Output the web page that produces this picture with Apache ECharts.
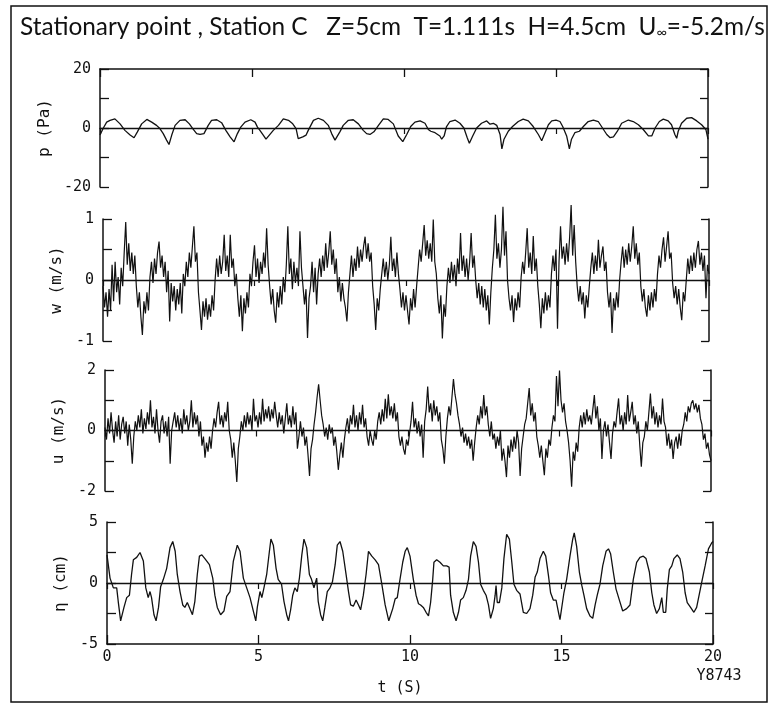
<!DOCTYPE html>
<html><head><meta charset="utf-8">
<script src="https://cdn.jsdelivr.net/npm/echarts/dist/echarts.min.js"></script>
<style>html,body{margin:0;padding:0;background:#fff}#c{width:770px;height:705px}</style>
</head><body><div id="c"></div>
<script>
// ---------------- data ----------------
const titleMain = 'Stationary point , Station C   Z=5cm  T=1.111s  H=4.5cm  U';
const titleSub = '\u221e';
const titleTail = '=-5.2m/s';
const timeTickLabels = ['0', '5', '10', '15', '20'];
const timeAxisName = 't (S)';
const figureCode = 'Y8743';
const panelNames = ['p (Pa)', 'w (m/s)', 'u (m/s)', '\u03b7 (cm)'];
const panelMax = [20, 1, 2, 5];
const yTickLabels = [['20', '0', '-20'], ['1', '0', '-1'], ['2', '0', '-2'], ['5', '0', '-5']];
const sampleStep = 0.05; // s, spacing of wValues / uValues

// pressure p (Pa): [t, p]
const pData = [[0,-2.4],[0.11,0],[0.22,2.0],[0.33,2.6],[0.49,3.1],[0.66,1.4],[0.82,-0.8],[0.99,-2.4],[1.12,-3.3],[1.23,-1.3],[1.37,1.4],[1.54,2.9],[1.70,2.0],[1.86,0.9],[1.97,-0.2],[2.08,-1.9],[2.19,-4.1],[2.27,-5.6],[2.36,-2.4],[2.47,0.9],[2.63,2.6],[2.80,2.8],[2.94,1.4],[3.05,-0.2],[3.18,-1.9],[3.29,-2.2],[3.42,-1.9],[3.56,0.9],[3.67,2.6],[3.84,2.8],[4.00,1.8],[4.14,-0.8],[4.28,-3.0],[4.41,-4.7],[4.52,-1.9],[4.63,0.3],[4.77,2.0],[4.96,2.8],[5.10,2.0],[5.18,0.3],[5.26,-0.8],[5.37,-2.4],[5.46,-3.8],[5.57,-2.4],[5.70,-0.8],[5.87,0.9],[6.03,3.1],[6.20,2.6],[6.34,1.4],[6.45,-0.2],[6.52,-3.6],[6.58,-4.1],[6.67,-3.0],[6.78,-2.4],[6.85,-0.8],[7.02,2.6],[7.18,3.3],[7.35,2.6],[7.51,0.9],[7.62,-1.9],[7.73,-4.1],[7.79,-4.1],[7.89,-1.3],[8.00,0.9],[8.17,2.6],[8.33,2.8],[8.50,1.4],[8.66,-0.8],[8.77,-1.9],[8.88,-2.2],[9.01,-1.3],[9.16,0.9],[9.32,3.1],[9.48,2.9],[9.65,1.4],[9.81,-2.7],[9.96,-4.6],[10.09,-2.2],[10.22,0.5],[10.36,2.0],[10.53,2.4],[10.69,1.6],[10.80,-0.5],[10.88,-1.1],[11.02,-1.6],[11.18,-2.7],[11.24,-3.8],[11.32,-2.7],[11.40,0.5],[11.51,2.2],[11.68,2.7],[11.84,1.6],[11.97,0],[12.08,-3.3],[12.15,-5.2],[12.26,-2.7],[12.39,0],[12.55,1.6],[12.72,2.4],[12.83,1.3],[12.94,1.6],[13.05,0.9],[13.16,-2.2],[13.22,-7.1],[13.29,-3.8],[13.43,-1.1],[13.57,0.5],[13.76,2.2],[13.92,3.0],[14.09,2.4],[14.25,0.5],[14.42,-2.2],[14.53,-4.3],[14.64,-1.6],[14.75,1.1],[14.86,2.4],[15.00,2.7],[15.13,2.2],[15.22,0.5],[15.35,-2.7],[15.44,-7.1],[15.51,-3.8],[15.62,-1.6],[15.77,-1.1],[15.90,0.5],[16.06,2.2],[16.23,2.7],[16.39,2.2],[16.53,0],[16.67,-2.2],[16.78,-3.3],[16.89,-3.0],[17.02,-1.1],[17.16,1.6],[17.38,2.7],[17.54,2.2],[17.71,1.1],[17.87,-0.5],[18.04,-2.7],[18.15,-2.7],[18.26,0],[18.40,2.2],[18.53,3.0],[18.69,2.4],[18.80,1.1],[18.91,-2.2],[18.97,-3.5],[19.02,-1.1],[19.13,1.6],[19.30,3.3],[19.46,3.5],[19.63,2.4],[19.79,1.1],[19.93,-0.5],[20.0,-3.8]];

// vertical velocity w (m/s), one value every 0.05 s from t = 0 (one row = 0.5 s)
const wValues = [
-0.1,-0.45,-0.2,-0.6,-0.15,-0.5,0.25,-0.35,0.3,-0.2,
0.05,-0.4,0.2,-0.1,0.45,0.95,0.25,0.6,0.15,0.45,
0.1,0.4,-0.1,-0.45,-0.2,-0.6,-0.9,-0.35,-0.55,-0.2,
-0.5,0.05,0.3,-0.05,0.35,0.1,0.45,0.63,0.2,0.4,
0.05,0.3,-0.2,0.15,-0.68,-0.05,-0.35,-0.1,-0.5,-0.15,
-0.4,-0.05,-0.55,0.1,-0.1,0.3,0.05,0.45,0.2,0.55,
0.88,0.3,0.45,-0.2,-0.5,-0.82,-0.35,-0.6,-0.3,-0.65,
-0.4,-0.6,-0.25,-0.5,0.0,0.35,0.05,0.4,0.1,0.3,
0.74,0.15,0.4,0.05,0.74,0.2,0.35,-0.1,0.1,-0.3,
-0.6,-0.25,-0.84,-0.3,-0.55,-0.2,-0.45,0.1,-0.1,0.3,
0.57,0.05,0.35,-0.05,0.3,0.1,0.45,0.2,0.85,0.25,
-0.1,-0.4,-0.15,-0.5,-0.7,-0.2,-0.45,-0.1,-0.4,0.05,
-0.2,0.25,0.88,0.1,0.35,-0.15,0.3,-0.05,0.2,-0.1,
0.8,0.2,-0.1,-0.4,-0.15,-0.95,-0.3,-0.1,0.3,-0.2,
0.2,-0.4,0.1,0.35,0.05,0.4,0.15,0.6,0.2,0.45,
0.8,0.25,0.5,0.1,0.35,-0.2,0.05,-0.35,-0.05,-0.3,
-0.45,-0.68,-0.2,0.1,0.4,0.05,0.35,0.15,0.55,0.2,
0.5,0.3,0.55,0.71,0.35,0.6,0.3,0.45,-0.1,-0.4,
-0.82,-0.3,-0.5,-0.15,0.1,0.35,0.05,0.3,0.0,0.25,
0.71,0.15,0.35,0.05,0.45,0.1,-0.15,-0.45,-0.2,-0.5,
-0.25,-0.5,-0.73,-0.3,-0.5,-0.15,-0.45,-0.1,0.2,0.5,
0.3,0.6,0.9,0.4,0.65,0.35,0.6,0.3,0.99,0.3,
0.1,-0.3,-0.55,-0.25,-0.96,-0.4,-0.6,-0.1,0.2,-0.05,
0.3,0.0,0.25,-0.1,0.35,0.1,0.77,0.15,0.4,0.05,
0.35,0.0,0.3,0.77,0.2,0.4,0.0,-0.3,-0.05,-0.4,
-0.1,-0.45,-0.15,-0.5,-0.25,-0.73,-0.2,0.2,0.5,1.07,
0.35,0.6,0.2,0.5,1.2,0.4,0.8,0.0,-0.3,-0.5,
-0.25,-0.69,-0.3,-0.5,-0.2,-0.45,0.05,0.3,0.1,0.45,
0.85,0.2,0.45,0.1,0.72,0.15,0.35,-0.1,-0.4,-0.79,
-0.3,-0.55,-0.2,-0.5,-0.25,-0.45,0.1,0.4,0.15,0.5,
-0.8,0.3,0.88,0.35,0.55,0.25,0.6,0.3,0.7,1.23,
0.4,0.9,0.3,-0.1,-0.35,-0.1,-0.4,-0.2,-0.63,-0.25,
-0.45,-0.1,0.2,0.45,0.1,0.4,0.15,0.66,0.2,0.4,
0.55,0.15,0.3,-0.2,-0.45,-0.2,-0.87,-0.3,-0.5,-0.2,
-0.45,0.0,0.3,0.55,0.2,0.5,0.25,0.6,0.3,0.55,
0.88,0.35,0.6,0.25,0.45,-0.1,-0.35,-0.15,-0.45,-0.6,
-0.25,-0.5,-0.2,-0.45,-0.15,-0.35,0.1,0.4,0.2,0.5,
0.7,0.3,0.55,0.8,0.35,0.45,-0.05,-0.3,-0.1,-0.4,
-0.15,-0.45,-0.66,-0.2,-0.35,0.0,0.35,0.1,0.4,0.15,
0.45,0.2,0.5,0.64,0.25,0.45,0.15,0.4,-0.3,0.25,
0.1];

// horizontal velocity u (m/s), one value every 0.05 s from t = 0 (one row = 0.5 s)
const uValues = [
0.1,-0.3,0.4,-0.1,0.6,0.0,-0.4,0.3,-0.2,0.5,
-0.3,0.2,0.45,-0.1,0.3,-0.5,0.2,-0.3,-1.1,-0.2,
0.3,0.0,0.5,0.1,0.7,-0.1,0.4,0.05,0.6,0.2,
1.0,0.1,0.45,-0.1,0.7,0.0,-0.4,0.3,0.5,-0.1,
0.3,-0.2,0.45,-1.1,0.0,0.3,0.6,0.1,0.5,0.0,
0.4,-0.1,0.7,0.2,0.5,0.0,0.3,1.0,0.1,0.6,
0.2,0.5,-0.2,0.3,-0.5,-0.2,-0.9,-0.4,-0.7,-0.2,
-0.6,0.0,0.4,0.1,0.6,0.95,0.2,0.5,0.1,0.6,
0.3,0.95,0.0,-0.3,-0.9,-0.4,-1.0,-1.7,-0.6,-0.2,
0.3,0.0,0.5,0.1,0.6,0.2,0.5,0.0,1.05,0.3,
0.5,0.1,0.6,0.2,1.05,0.3,0.7,0.4,0.8,0.3,
0.7,0.4,0.95,0.5,0.1,0.6,0.2,0.5,-0.1,0.4,
0.9,0.2,0.5,0.1,0.8,0.2,0.6,-0.6,-0.2,0.3,
-0.2,0.1,-0.5,-0.2,-0.8,-1.5,-0.6,-0.3,0.2,0.6,
1.1,1.53,1.0,0.5,0.2,-0.2,0.1,-0.3,0.2,-0.1,
0.1,-0.5,-0.2,-0.7,-1.3,-0.8,-0.4,-0.9,-0.3,0.1,
0.4,-0.1,0.5,0.2,0.85,0.1,0.5,0.0,0.6,0.2,
0.85,0.1,0.4,-0.2,-0.5,0.0,-0.3,-0.5,0.0,-0.3,
0.3,0.6,0.2,0.7,0.3,1.05,0.4,1.2,0.5,0.8,
0.4,0.9,0.3,0.6,-0.2,-0.5,-0.2,-0.6,-0.8,-0.3,
-0.5,-0.1,0.3,0.95,0.1,0.4,-0.1,0.3,-0.2,0.2,
-0.9,0.3,0.7,1.45,0.6,0.9,0.3,1.0,0.5,0.8,
0.3,0.6,-0.3,-0.6,-1.1,-0.2,0.4,0.8,0.5,1.1,
1.7,1.2,0.9,0.5,0.2,-0.2,0.1,-0.4,-0.1,-0.5,
-0.2,-0.6,-0.3,-1.0,-0.4,0.1,0.5,0.2,0.8,0.4,
1.17,0.5,0.8,0.2,-0.2,0.3,-0.3,-0.1,-0.6,-0.2,
-0.5,0.0,-1.0,-0.6,-1.0,-1.54,-0.5,-0.9,-0.3,-0.7,
-0.2,-0.6,0.0,-0.4,-1.5,-0.6,-0.2,0.2,0.4,0.9,
1.4,0.5,0.9,0.3,0.6,-0.2,-0.5,-0.9,-0.5,-1.0,
-1.48,-0.6,-0.9,-0.3,-0.5,0.1,0.5,0.3,1.8,0.8,
1.98,1.0,0.6,0.9,0.3,0.0,-0.4,-1.0,-1.86,-0.7,
-1.0,-0.4,-0.7,0.1,0.5,0.1,0.6,0.2,0.7,0.3,
0.5,0.2,0.7,1.17,0.4,0.8,0.0,0.4,-0.94,0.0,
0.3,-0.2,0.2,-0.4,-0.94,-0.1,0.3,0.1,0.6,1.06,
0.2,0.5,0.0,0.6,0.2,1.17,0.3,0.6,0.95,0.2,
0.5,-0.1,0.3,-0.5,-1.2,-0.4,-0.2,0.3,0.0,0.6,
1.22,0.4,0.8,0.2,0.6,0.1,0.5,0.2,1.06,0.3,
0.1,-0.5,-0.1,-0.6,-0.3,-0.94,-0.4,-0.2,-0.6,-0.1,
-0.5,0.0,0.2,0.6,0.3,0.8,0.6,0.9,1.0,0.7,
0.9,0.6,0.85,0.4,0.2,-0.3,-0.1,-0.6,-0.4,-0.8,
-1.0];

// surface elevation eta (cm): [t, eta]
const etaData = [[0,2.3],[0.10,0.4],[0.21,-0.4],[0.26,-0.55],[0.32,-0.4],[0.37,-1.5],[0.45,-3.1],[0.56,-2.0],[0.65,-1.2],[0.74,-1.0],[0.81,0.7],[0.87,1.9],[0.98,2.1],[1.09,2.5],[1.20,1.8],[1.28,-0.4],[1.36,-1.2],[1.42,-0.7],[1.47,-1.2],[1.55,-2.6],[1.62,-3.1],[1.70,-2.0],[1.77,-0.3],[1.86,0.3],[1.97,1.2],[2.08,2.9],[2.17,3.4],[2.25,2.6],[2.32,0.7],[2.41,-0.7],[2.50,-1.8],[2.57,-2.0],[2.65,-1.6],[2.72,-2.0],[2.82,-2.6],[2.90,-1.5],[2.98,0.7],[3.05,2.2],[3.13,2.3],[3.23,2.0],[3.38,1.5],[3.49,0.4],[3.56,-1.0],[3.64,-2.0],[3.75,-2.6],[3.86,-2.3],[3.95,-1.1],[4.06,-0.7],[4.17,1.8],[4.30,3.1],[4.39,2.6],[4.50,0.4],[4.61,-0.4],[4.72,-1.2],[4.83,-2.3],[4.91,-3.1],[4.96,-2.0],[5.05,-0.7],[5.11,-1.2],[5.18,-0.4],[5.27,0.7],[5.36,2.6],[5.41,3.6],[5.49,3.1],[5.58,1.2],[5.65,0.3],[5.76,-0.1],[5.84,-1.5],[5.93,-2.6],[5.99,-3.1],[6.06,-2.2],[6.13,-1.0],[6.20,-0.4],[6.28,-0.7],[6.35,0.4],[6.43,2.3],[6.50,3.6],[6.59,2.9],[6.68,0.7],[6.75,0.3],[6.83,-0.4],[6.92,0.4],[6.97,-1.5],[7.05,-2.6],[7.12,-3.1],[7.19,-2.0],[7.27,-0.7],[7.36,-0.4],[7.44,0.1],[7.53,1.5],[7.60,3.1],[7.69,3.4],[7.78,2.6],[7.89,0.7],[7.97,-0.7],[8.04,-1.8],[8.13,-1.9],[8.22,-1.4],[8.30,-1.8],[8.37,-2.2],[8.46,-1.0],[8.55,0.7],[8.63,2.6],[8.74,2.2],[8.85,1.9],[8.96,1.5],[9.07,-0.1],[9.18,-1.8],[9.30,-3.1],[9.43,-2.1],[9.51,-1.3],[9.58,-1.2],[9.67,0.3],[9.76,1.7],[9.84,2.6],[9.91,2.9],[10.00,2.2],[10.11,0.3],[10.20,-1.0],[10.28,-1.7],[10.35,-1.8],[10.44,-2.0],[10.53,-2.4],[10.61,-2.7],[10.68,-1.6],[10.75,0.3],[10.79,1.7],[10.88,1.9],[10.99,1.7],[11.10,1.4],[11.21,1.4],[11.29,1.3],[11.34,-1.0],[11.43,-2.4],[11.52,-3.1],[11.60,-2.4],[11.67,-1.4],[11.76,-1.2],[11.85,-0.6],[11.93,0.3],[12.00,2.2],[12.09,3.4],[12.18,3.0],[12.26,1.7],[12.33,-0.1],[12.42,-0.6],[12.51,-1.0],[12.59,-1.8],[12.66,-2.9],[12.75,-2.1],[12.81,-1.0],[12.84,-0.2],[12.88,-1.6],[12.95,-1.6],[13.03,-0.4],[13.10,2.0],[13.19,4.0],[13.28,3.6],[13.36,1.7],[13.43,-0.1],[13.52,-0.6],[13.63,-0.9],[13.74,-2.4],[13.85,-2.5],[13.96,-2.1],[14.05,-1.0],[14.13,0.5],[14.20,0.9],[14.29,2.0],[14.40,2.6],[14.48,2.2],[14.57,0.6],[14.64,-0.8],[14.73,-1.4],[14.82,-1.4],[14.90,-2.4],[14.95,-3.0],[15.08,-0.8],[15.17,0.3],[15.28,2.2],[15.37,3.6],[15.42,4.1],[15.50,3.0],[15.59,0.9],[15.67,-0.2],[15.74,-1.0],[15.83,-2.1],[15.94,-2.7],[16.03,-2.9],[16.11,-1.8],[16.18,-1.0],[16.27,-0.1],[16.36,1.4],[16.47,2.6],[16.55,2.8],[16.62,2.4],[16.71,0.9],[16.80,-0.5],[16.91,-1.4],[17.02,-2.3],[17.15,-2.1],[17.26,-1.8],[17.37,0.3],[17.48,1.7],[17.59,2.1],[17.70,2.2],[17.79,2.0],[17.90,0.9],[17.98,-0.8],[18.05,-1.8],[18.14,-2.5],[18.23,-2.1],[18.31,-1.2],[18.36,-2.4],[18.44,-2.4],[18.49,-0.5],[18.56,1.1],[18.64,1.4],[18.71,2.0],[18.82,2.3],[18.91,2.0],[19.00,0.9],[19.08,-0.8],[19.15,-1.6],[19.26,-2.0],[19.37,-2.4],[19.46,-2.0],[19.55,-0.9],[19.63,0.1],[19.74,1.4],[19.85,2.8],[19.96,3.3],[20.0,3.4]];

// ---------------- chart ----------------
const wData = wValues.map((v, i) => [+(i * sampleStep).toFixed(2), v]);
const uData = uValues.map((v, i) => [+(i * sampleStep).toFixed(2), v]);
const seriesData = [pData, wData, uData, etaData];

const INK = '#111';
const MONO = 'DejaVu Sans Mono';
const grids = [
  { left: 100, top: 69, width: 608, height: 118 },
  { left: 103, top: 219, width: 606, height: 122 },
  { left: 105, top: 370, width: 606, height: 121 },
  { left: 107, top: 522, width: 606, height: 122 }
];

const xAxes = [], yAxes = [], series = [];
grids.forEach((g, i) => {
  const max = panelMax[i];
  const labels = yTickLabels[i];
  const zeroIdx = xAxes.length;
  xAxes.push({
    gridIndex: i, type: 'value', min: 0, max: 20, interval: 5, position: 'bottom',
    axisLine: { show: true, onZero: true, lineStyle: { color: INK, width: 1.3 } },
    axisTick: { show: true, inside: false, length: 6, lineStyle: { color: INK, width: 1.2 } },
    axisLabel: { show: false }, splitLine: { show: false }
  });
  if (i === 0) {
    xAxes.push({
      gridIndex: i, type: 'value', min: 0, max: 20, interval: 5, position: 'top',
      axisLine: { show: true, onZero: false, lineStyle: { color: INK, width: 1.5 } },
      axisTick: { show: true, inside: true, length: 8, lineStyle: { color: INK, width: 1.3 } },
      axisLabel: { show: false }, splitLine: { show: false }
    });
  }
  if (i === 3) {
    xAxes.push({
      gridIndex: i, type: 'value', min: 0, max: 20, interval: 5, position: 'bottom',
      axisLine: { show: true, onZero: false, lineStyle: { color: INK, width: 1.5 } },
      axisTick: { show: true, inside: true, length: 9, lineStyle: { color: INK, width: 1.3 } },
      axisLabel: {
        show: true, margin: 6, color: INK, fontFamily: MONO, fontSize: 15,
        formatter: v => timeTickLabels[Math.round(v / 5)]
      },
      splitLine: { show: false }
    });
  }
  const leftIdx = yAxes.length;
  yAxes.push({
    gridIndex: i, type: 'value', min: -max, max: max, interval: max / 2, position: 'left',
    name: panelNames[i], nameLocation: 'middle', nameRotate: 90, nameGap: 38,
    nameTextStyle: { color: INK, fontFamily: MONO, fontSize: 16 },
    axisLine: { show: true, onZero: false, lineStyle: { color: INK, width: 1.5 } },
    axisTick: { show: true, inside: true, length: 9, lineStyle: { color: INK, width: 1.3 } },
    axisLabel: {
      show: true, margin: 9, color: INK, fontFamily: MONO, fontSize: 15,
      formatter: v => (v === max ? labels[0] : v === 0 ? labels[1] : v === -max ? labels[2] : '')
    },
    splitLine: { show: false }
  });
  yAxes.push({
    gridIndex: i, type: 'value', min: -max, max: max, interval: max / 2, position: 'right',
    axisLine: { show: true, onZero: false, lineStyle: { color: INK, width: 1.5 } },
    axisTick: { show: true, inside: true, length: 8, lineStyle: { color: INK, width: 1.3 } },
    axisLabel: { show: false }, splitLine: { show: false }
  });
  series.push({
    type: 'line', xAxisIndex: zeroIdx, yAxisIndex: leftIdx, data: seriesData[i],
    showSymbol: false, symbol: 'none', clip: false, silent: true,
    lineStyle: { color: INK, width: i === 1 || i === 2 ? 1.2 : 1.3 }
  });
});

const chart = echarts.init(document.getElementById('c'), null, { renderer: 'canvas' });
chart.setOption({
  animation: false,
  backgroundColor: '#fff',
  grid: grids.map(g => Object.assign({ outerBoundsMode: 'none', containLabel: false }, g)),
  xAxis: xAxes,
  yAxis: yAxes,
  series: series,
  graphic: [
    { type: 'rect', shape: { x: 11, y: 6, width: 756, height: 696 }, style: { fill: 'none', stroke: INK, lineWidth: 1.5 }, silent: true },
    { type: 'text', left: 20, top: 15, silent: true,
      style: {
        text: '{m|' + titleMain + '}{s|' + titleSub + '}{m|' + titleTail + '}',
        rich: {
          m: { fontFamily: 'Lato', fontSize: 24.4, fill: INK, lineHeight: 30, verticalAlign: 'bottom' },
          s: { fontFamily: 'Lato', fontSize: 14, fill: INK, lineHeight: 15, verticalAlign: 'bottom' }
        }
      } },
    { type: 'text', x: 400, y: 688, silent: true,
      style: { text: timeAxisName, fontFamily: MONO, fontSize: 15, fill: INK, align: 'center', verticalAlign: 'middle' } },
    { type: 'text', x: 719, y: 676, silent: true,
      style: { text: figureCode, fontFamily: MONO, fontSize: 15, fill: INK, align: 'center', verticalAlign: 'middle' } }
  ]
});
</script>
</body></html>
